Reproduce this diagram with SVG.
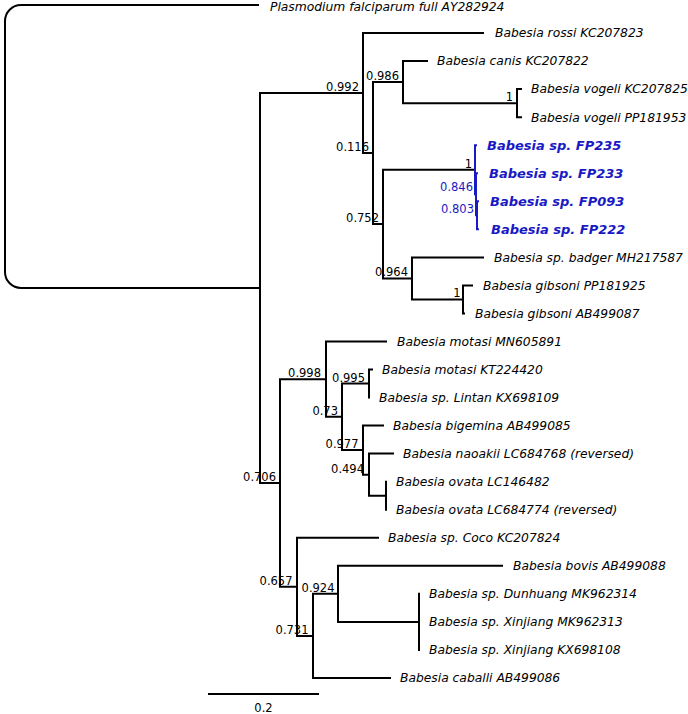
<svg xmlns="http://www.w3.org/2000/svg" width="688" height="714" viewBox="0 0 688 714">
<style>
.e{fill:none;stroke:#000;stroke-width:2;stroke-linejoin:miter;stroke-linecap:butt}
.eb{fill:none;stroke:#1a1ac4;stroke-width:2;stroke-linecap:butt}
.t{font-family:"DejaVu Sans",Verdana,sans-serif;font-size:12.3px;font-style:oblique;fill:#000}
.tb{font-family:"DejaVu Sans",Verdana,sans-serif;font-size:13px;font-style:oblique;font-weight:bold;fill:#1a1ac4}
.l{font-family:"DejaVu Sans",Verdana,sans-serif;font-size:11.5px;fill:#000;text-anchor:end}
.lb{font-family:"DejaVu Sans",Verdana,sans-serif;font-size:11.5px;fill:#1a1ac4;text-anchor:end}
</style>
<rect width="688" height="714" fill="#fff"/>
<g id="edges">
<path class="e" d="M259 5H21A16 16 0 0 0 5 21V272A16 16 0 0 0 21 288H260"/>
<path class="e" d="M260 288V93.05H363M260 288V483H280"/>
<path class="e" d="M363 93.05V33H484M363 93.05V153.1H373"/>
<path class="e" d="M373 153.1V82.1H403M373 153.1V224.05H383"/>
<path class="e" d="M403 82.1V61.1H428M403 82.1V103.15H517"/>
<path class="e" d="M517 103.15V89.1H522M517 103.15V117.2H522"/>
<path class="e" d="M383 224.05V169.7H475M383 224.05V278.4H412"/>
<path class="eb" d="M475 169.7V145.2H477M475 169.7V194.25H476"/>
<path class="eb" d="M476 194.25V173.2H478M476 194.25V215.3H477"/>
<path class="eb" d="M477 215.3V201.3H479M477 215.3V229.3H479"/>
<path class="e" d="M412 278.4V257.4H484M412 278.4V299.4H463"/>
<path class="e" d="M463 299.4V285.4H473M463 299.4V313.4H465"/>
<path class="e" d="M280 483V379.2H326M280 483V586.85H297"/>
<path class="e" d="M326 379.2V341.5H387M326 379.2V416.8H342"/>
<path class="e" d="M342 416.8V383.55H369M342 416.8V450.1H363"/>
<path class="e" d="M369 383.55V369.5H373M369 383.55V397.6H370"/>
<path class="e" d="M363 450.1V425.6H384M363 450.1V474.65H369"/>
<path class="e" d="M369 474.65V453.6H394M369 474.65V495.7H386"/>
<path class="e" d="M386 495.7V481.7H387M386 495.7V509.7H387"/>
<path class="e" d="M297 586.85V537.8H379M297 586.85V635.9H313"/>
<path class="e" d="M313 635.9V593.85H338M313 635.9V678H391"/>
<path class="e" d="M338 593.85V565.8H503M338 593.85V621.9H419"/>
<path class="e" d="M419 621.9V593.8H420M419 621.9V649.9H420M419 621.9H420"/>
<path class="e" d="M208 694H319"/>
</g>
<g id="taxa">
<g id="t0"><text class="t" x="270" y="10.5">Plasmodium falciparum full AY282924</text></g>
<g id="t1"><text class="t" x="495" y="37.3">Babesia rossi KC207823</text></g>
<g id="t2"><text class="t" x="437" y="65.4">Babesia canis KC207822</text></g>
<g id="t3"><text class="t" x="531" y="93.4">Babesia vogeli KC207825</text></g>
<g id="t4"><text class="t" x="531" y="121.5">Babesia vogeli PP181953</text></g>
<g id="t5"><text class="tb" x="487" y="149.9">Babesia sp. FP235</text></g>
<g id="t6"><text class="tb" x="489" y="177.9">Babesia sp. FP233</text></g>
<g id="t7"><text class="tb" x="490" y="206">Babesia sp. FP093</text></g>
<g id="t8"><text class="tb" x="491" y="234">Babesia sp. FP222</text></g>
<g id="t9"><text class="t" x="494" y="261.7">Babesia sp. badger MH217587</text></g>
<g id="t10"><text class="t" x="483" y="289.7">Babesia gibsoni PP181925</text></g>
<g id="t11"><text class="t" x="475" y="317.7">Babesia gibsoni AB499087</text></g>
<g id="t12"><text class="t" x="397" y="345.8">Babesia motasi MN605891</text></g>
<g id="t13"><text class="t" x="382" y="373.8">Babesia motasi KT224420</text></g>
<g id="t14"><text class="t" x="379" y="401.9">Babesia sp. Lintan KX698109</text></g>
<g id="t15"><text class="t" x="393" y="429.9">Babesia bigemina AB499085</text></g>
<g id="t16"><text class="t" x="403" y="457.9">Babesia naoakii LC684768 (reversed)</text></g>
<g id="t17"><text class="t" x="396" y="486">Babesia ovata LC146482</text></g>
<g id="t18"><text class="t" x="396" y="514">Babesia ovata LC684774 (reversed)</text></g>
<g id="t19"><text class="t" x="388" y="542.1">Babesia sp. Coco KC207824</text></g>
<g id="t20"><text class="t" x="513" y="570.1">Babesia bovis AB499088</text></g>
<g id="t21"><text class="t" x="429" y="598.1">Babesia sp. Dunhuang MK962314</text></g>
<g id="t22"><text class="t" x="429" y="626.2">Babesia sp. Xinjiang MK962313</text></g>
<g id="t23"><text class="t" x="429" y="654.2">Babesia sp. Xinjiang KX698108</text></g>
<g id="t24"><text class="t" x="400" y="682.3">Babesia caballi AB499086</text></g>
</g>
<g id="supports">
<g id="n0992"><text class="l" x="359" y="91">0.992</text></g>
<g id="n0116"><text class="l" x="369" y="151">0.116</text></g>
<g id="n0986"><text class="l" x="399" y="80">0.986</text></g>
<g id="nvog"><text class="l" x="513" y="101">1</text></g>
<g id="n0752"><text class="l" x="379" y="222">0.752</text></g>
<g id="nfp1"><text class="l" x="472" y="167.5">1</text></g>
<g id="n0846"><text class="lb" x="473" y="190.5">0.846</text></g>
<g id="n0803"><text class="lb" x="474" y="212.5">0.803</text></g>
<g id="n0964"><text class="l" x="408" y="276.4">0.964</text></g>
<g id="ngib"><text class="l" x="460.5" y="297.4">1</text></g>
<g id="n0706"><text class="l" x="276" y="481">0.706</text></g>
<g id="n0998"><text class="l" x="321" y="377">0.998</text></g>
<g id="n073"><text class="l" x="338" y="414.8">0.73</text></g>
<g id="n0995"><text class="l" x="365" y="381.5">0.995</text></g>
<g id="n0977"><text class="l" x="358.5" y="448">0.977</text></g>
<g id="n0494"><text class="l" x="364" y="472.6">0.494</text></g>
<g id="n0657"><text class="l" x="292.5" y="584.8">0.657</text></g>
<g id="n0731"><text class="l" x="308.5" y="633.9">0.731</text></g>
<g id="n0924"><text class="l" x="334.5" y="591.8">0.924</text></g>
</g>
<g id="scale"><text class="l" x="263.5" y="712" style="text-anchor:middle">0.2</text></g>
</svg>
